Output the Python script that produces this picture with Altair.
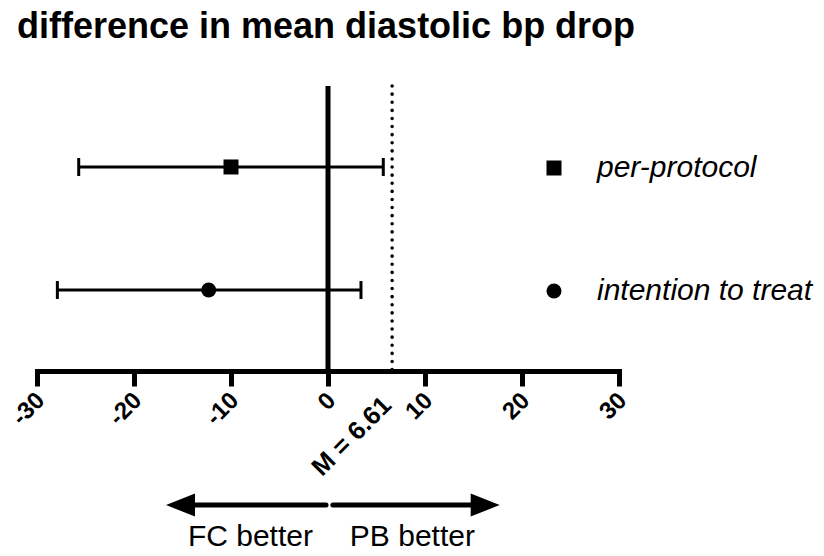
import altair as alt
import pandas as pd

# ---- data ----
series = ["per-protocol", "intention to treat"]
means = [-10.0, -12.3]
ci_low = [-25.7, -27.9]
ci_high = [5.7, 3.4]
shapes = ["square", "circle"]

M_value = 6.61
x_ticks = [-30, -20, -10, 0, 10, 20, 30]

arrow_labels = ["FC better", "PB better"]
arrow_start = [-0.2, 0.5]
arrow_tip = [-16.7, 17.7]
arrow_dir = [-1, 1]
label_pos = [-8.0, 8.7]

FONT = "Liberation Sans"
W, H = 582, 285

df = pd.DataFrame({"series": series, "mean": means, "lo": ci_low, "hi": ci_high})
caps = pd.DataFrame({"series": series * 2, "v": ci_low + ci_high})
arrows = pd.DataFrame({"label": arrow_labels, "start": arrow_start, "tip": arrow_tip,
                       "dir": arrow_dir, "lpos": label_pos})
mdf = pd.DataFrame({"m": [M_value], "txt": [f"M = {M_value}"]})

xscale = alt.Scale(domain=[-30, 30], nice=False, zero=False)
yscale = alt.Scale(type="point", domain=series, padding=0.658)

xaxis = alt.Axis(values=x_ticks, title=None, grid=False, labelAngle=-45,
                 labelExpr="'' + datum.value",
                 labelFont=FONT, labelFontSize=24, labelFontWeight="bold",
                 labelColor="black", domainColor="black", domainWidth=5,
                 domainCap="square", tickColor="black", tickWidth=5, tickSize=15,
                 labelPadding=2, labelOffset=-5, labelFlush=False, labelOverlap=False)

base = alt.Chart(df)

bars = base.mark_rule(color="black", strokeWidth=3, opacity=1).encode(
    x=alt.X("lo:Q", scale=xscale, axis=xaxis),
    x2="hi:Q",
    y=alt.Y("series:N", scale=yscale, axis=None),
)

cap_marks = alt.Chart(caps).mark_tick(color="black", thickness=3, size=18,
                                      orient="vertical", opacity=1).encode(
    x=alt.X("v:Q", scale=xscale),
    y=alt.Y("series:N", scale=yscale, axis=None),
)

points = base.mark_point(filled=True, size=225, color="black", opacity=1).encode(
    x=alt.X("mean:Q", scale=xscale),
    y=alt.Y("series:N", scale=yscale, axis=None),
    shape=alt.Shape("series:N", scale=alt.Scale(domain=series, range=shapes),
                    legend=alt.Legend(title=None, orient="none", legendX=502, legendY=67,
                                      symbolSize=225, symbolFillColor="black",
                                      symbolStrokeColor="black", symbolStrokeWidth=0,
                                      symbolOpacity=1,
                                      labelFont=FONT, labelFontSize=30,
                                      labelFontStyle="italic", labelColor="black",
                                      labelOffset=28, rowPadding=93, padding=0,
                                      labelLimit=400)),
)

zero = alt.Chart(pd.DataFrame({"z": [0]})).mark_rule(color="black", strokeWidth=5, opacity=1).encode(
    x=alt.X("z:Q", scale=xscale)
)

mline = alt.Chart(mdf).mark_rule(color="black", strokeWidth=3.5, strokeDash=[0.1, 8],
                                 strokeCap="round", opacity=1).encode(
    x=alt.X("m:Q", scale=xscale)
)

mtext = alt.Chart(mdf).mark_text(font=FONT, fontSize=25.5, fontWeight="bold", angle=315,
                                 align="right", baseline="middle", color="black",
                                 xOffset=-5).encode(
    x=alt.X("m:Q", scale=xscale),
    y=alt.value(H + 30),
    text="txt:N",
)

arrow_lines = alt.Chart(arrows).transform_calculate(
    lend="datum.tip - datum.dir * 2.5"
).mark_rule(color="black", strokeWidth=5, strokeCap="round", opacity=1).encode(
    x=alt.X("start:Q", scale=xscale),
    x2="lend:Q",
    y=alt.value(419),
)

left_head = alt.Chart(arrows).transform_filter("datum.dir < 0").mark_point(
    shape="M 0 0 L 2 -0.8 L 2 0.8 Z", size=841, filled=True, color="black", opacity=1
).encode(x=alt.X("tip:Q", scale=xscale), y=alt.value(419))

right_head = alt.Chart(arrows).transform_filter("datum.dir > 0").mark_point(
    shape="M 0 0 L -2 -0.8 L -2 0.8 Z", size=841, filled=True, color="black", opacity=1
).encode(x=alt.X("tip:Q", scale=xscale), y=alt.value(419))

arrow_text = alt.Chart(arrows).mark_text(font=FONT, fontSize=30, color="black",
                                         baseline="alphabetic", align="center").encode(
    x=alt.X("lpos:Q", scale=xscale),
    y=alt.value(460),
    text="label:N",
)

chart = alt.layer(
    bars, cap_marks, points, zero, mline, mtext, arrow_lines, left_head, right_head, arrow_text
).properties(
    width=W, height=H,
    title=alt.Title("difference in mean diastolic bp drop", anchor="start", frame="group",
                    font=FONT, fontSize=36, fontWeight="bold", color="black", dx=-20,
                    offset=10, baseline="alphabetic"),
    autosize=alt.AutoSizeParams(type="none"),
    padding={"left": 29, "top": 78, "right": 197, "bottom": 177},
).configure_view(stroke=None)

chart.save("out.html", embed_options={"renderer": "svg", "actions": False})
